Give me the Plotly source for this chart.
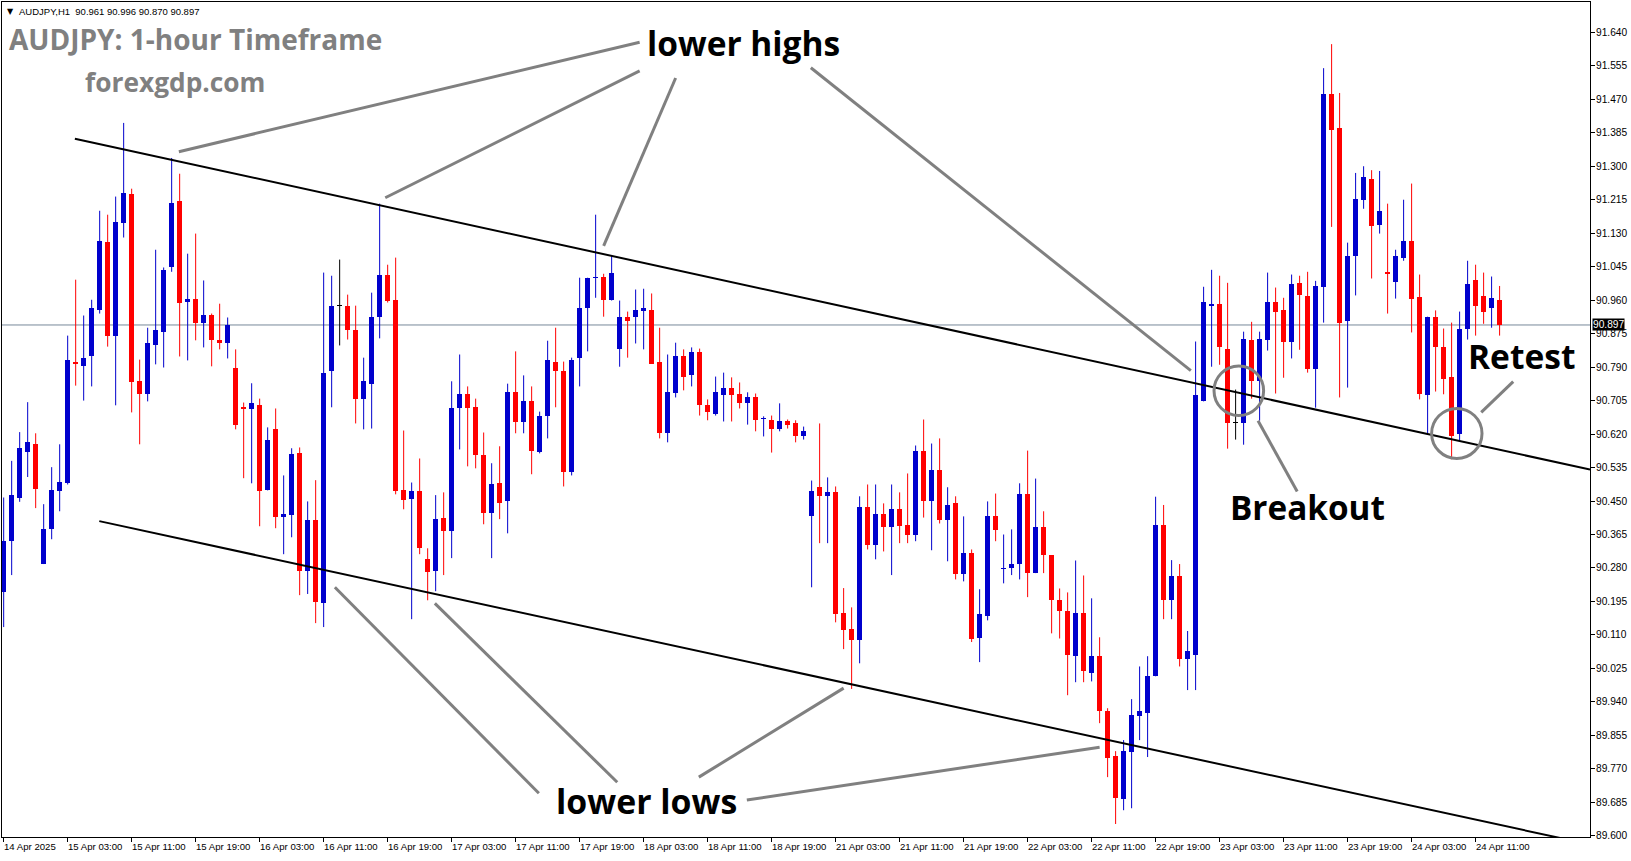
import plotly.graph_objects as go

# ---------------- data (AUDJPY H1, bar index 0 = 14 Apr 2025 19:00) ----------------
opens = [90.220, 90.349, 90.458, 90.574, 90.596, 90.290, 90.378, 90.475, 90.495, 90.804,
         90.792, 90.819, 90.936, 91.108, 90.870, 91.157, 91.230, 90.754, 90.721, 90.845,
         90.878, 91.045, 91.212, 90.956, 90.964, 90.901, 90.923, 90.860, 90.850, 90.787,
         90.690, 90.683, 90.693, 90.477, 90.632, 90.409, 90.414, 90.571, 90.272, 90.401,
         90.191, 90.779, 90.946, 90.944, 90.885, 90.710, 90.748, 90.916, 91.025, 90.961,
         90.477, 90.454, 90.475, 90.302, 90.272, 90.406, 90.373, 90.685, 90.721, 90.690,
         90.568, 90.419, 90.495, 90.449, 90.728, 90.650, 90.703, 90.574, 90.665, 90.802,
         90.781, 90.523, 90.814, 90.939, 91.016, 91.020, 90.961, 90.835, 90.918, 90.916,
         90.933, 90.936, 90.802, 90.622, 90.725, 90.819, 90.769, 90.829, 90.695, 90.670,
         90.718, 90.736, 90.723, 90.700, 90.715, 90.658, 90.657, 90.632, 90.652, 90.647,
         90.614, 90.411, 90.485, 90.464, 90.474, 90.165, 90.125, 90.097, 90.436, 90.338,
         90.416, 90.383, 90.431, 90.388, 90.365, 90.576, 90.449, 90.528, 90.403, 90.444,
         90.264, 90.317, 90.102, 90.158, 90.411, 90.278, 90.279, 90.289, 90.467, 90.267,
         90.383, 90.312, 90.200, 90.172, 90.056, 90.165, 90.013, 90.056, 89.916, 89.802,
         89.693, 89.812, 89.904, 89.911, 90.005, 90.388, 90.200, 90.260, 90.050, 90.060,
         90.705, 90.944, 90.951, 90.837, 90.649, 90.647, 90.860, 90.756, 90.860, 90.956,
         90.936, 90.855, 91.004, 90.971, 90.784, 90.994, 91.483, 91.397, 90.906, 91.073,
         91.215, 91.268, 91.152, 91.032, 91.007, 91.068, 91.111, 90.967, 90.718, 90.918,
         90.842, 90.764, 90.620, 90.888, 91.010, 90.970, 90.939, 90.961]
highs = [90.459, 90.552, 90.625, 90.701, 90.622, 90.442, 90.536, 90.594, 90.870, 91.012,
         90.921, 90.961, 91.187, 91.177, 91.223, 91.410, 91.243, 90.809, 90.890, 91.088,
         91.043, 91.321, 91.281, 91.078, 91.129, 91.010, 90.926, 90.951, 90.916, 90.835,
         90.700, 90.749, 90.710, 90.637, 90.685, 90.515, 90.584, 90.586, 90.449, 90.503,
         91.030, 91.022, 91.063, 90.974, 90.946, 90.814, 90.979, 91.205, 91.050, 91.068,
         90.629, 90.497, 90.558, 90.330, 90.465, 90.472, 90.754, 90.822, 90.741, 90.710,
         90.624, 90.546, 90.589, 90.748, 90.830, 90.769, 90.741, 90.677, 90.857, 90.890,
         90.804, 90.814, 91.017, 91.017, 91.177, 91.027, 91.073, 90.959, 90.931, 90.987,
         90.989, 90.977, 90.890, 90.822, 90.852, 90.835, 90.840, 90.837, 90.708, 90.766,
         90.776, 90.764, 90.751, 90.726, 90.723, 90.665, 90.667, 90.698, 90.657, 90.655,
         90.639, 90.502, 90.647, 90.510, 90.487, 90.229, 90.180, 90.462, 90.492, 90.492,
         90.444, 90.492, 90.472, 90.520, 90.591, 90.657, 90.596, 90.609, 90.485, 90.462,
         90.411, 90.327, 90.226, 90.449, 90.469, 90.365, 90.378, 90.495, 90.578, 90.507,
         90.424, 90.312, 90.228, 90.218, 90.299, 90.261, 90.203, 90.104, 89.924, 89.815,
         89.843, 89.947, 90.030, 90.056, 90.461, 90.440, 90.300, 90.290, 90.120, 90.855,
         90.994, 91.037, 91.022, 91.004, 90.733, 90.880, 90.905, 90.880, 91.030, 90.992,
         90.966, 91.025, 91.022, 91.032, 91.009, 91.549, 91.610, 91.486, 91.106, 91.283,
         91.300, 91.290, 91.288, 91.205, 91.088, 91.215, 91.256, 91.025, 90.918, 90.934,
         90.888, 90.903, 90.931, 91.060, 91.050, 91.030, 91.020, 90.996]
lows = [90.130, 90.262, 90.448, 90.511, 90.432, 90.290, 90.353, 90.424, 90.492, 90.743,
        90.705, 90.741, 90.926, 90.842, 90.693, 91.119, 90.675, 90.594, 90.703, 90.797,
        90.789, 91.032, 90.817, 90.807, 90.858, 90.840, 90.792, 90.835, 90.812, 90.632,
        90.508, 90.495, 90.386, 90.477, 90.381, 90.315, 90.358, 90.211, 90.214, 90.140,
        90.130, 90.688, 90.845, 90.860, 90.647, 90.632, 90.634, 90.863, 90.954, 90.467,
        90.429, 90.150, 90.315, 90.198, 90.221, 90.262, 90.305, 90.581, 90.538, 90.533,
        90.391, 90.305, 90.404, 90.368, 90.622, 90.622, 90.518, 90.571, 90.609, 90.688,
        90.487, 90.515, 90.741, 90.830, 90.966, 90.918, 90.959, 90.791, 90.814, 90.850,
        90.835, 90.799, 90.609, 90.599, 90.713, 90.731, 90.741, 90.667, 90.655, 90.667,
        90.652, 90.652, 90.685, 90.644, 90.627, 90.614, 90.573, 90.627, 90.634, 90.599,
        90.606, 90.231, 90.343, 90.343, 90.142, 90.074, 89.973, 90.038, 90.327, 90.302,
        90.322, 90.262, 90.343, 90.343, 90.348, 90.408, 90.325, 90.393, 90.297, 90.251,
        90.246, 90.092, 90.041, 90.147, 90.348, 90.241, 90.262, 90.251, 90.206, 90.267,
        90.267, 90.114, 90.101, 89.957, 89.990, 89.990, 89.992, 89.886, 89.749, 89.630,
        89.665, 89.670, 89.843, 89.800, 90.005, 90.150, 90.150, 90.030, 89.970, 89.970,
        90.703, 90.791, 90.796, 90.583, 90.606, 90.593, 90.710, 90.654, 90.832, 90.723,
        90.763, 90.812, 90.834, 90.776, 90.687, 90.903, 91.146, 90.713, 90.738, 90.972,
        91.192, 91.015, 91.129, 90.926, 90.964, 91.060, 90.878, 90.708, 90.619, 90.728,
        90.721, 90.556, 90.600, 90.860, 90.870, 90.900, 90.890, 90.870]
closes = [90.349, 90.465, 90.584, 90.599, 90.481, 90.378, 90.477, 90.498, 90.809, 90.799,
          90.814, 90.939, 91.111, 90.868, 91.159, 91.233, 90.751, 90.721, 90.850, 90.883,
          91.037, 91.207, 90.954, 90.964, 90.903, 90.923, 90.860, 90.850, 90.896, 90.642,
          90.683, 90.698, 90.475, 90.604, 90.409, 90.416, 90.569, 90.272, 90.401, 90.193,
          90.776, 90.946, 90.946, 90.883, 90.710, 90.756, 90.918, 91.025, 90.959, 90.475,
          90.452, 90.475, 90.330, 90.269, 90.404, 90.373, 90.685, 90.721, 90.685, 90.568,
          90.419, 90.492, 90.444, 90.726, 90.650, 90.705, 90.576, 90.667, 90.807, 90.781,
          90.523, 90.807, 90.941, 91.017, 91.018, 90.961, 91.030, 90.918, 90.908, 90.936,
          90.941, 90.799, 90.622, 90.728, 90.819, 90.764, 90.829, 90.693, 90.675, 90.728,
          90.738, 90.720, 90.700, 90.713, 90.657, 90.660, 90.632, 90.652, 90.644, 90.614,
          90.629, 90.475, 90.464, 90.474, 90.163, 90.122, 90.097, 90.436, 90.338, 90.416,
          90.383, 90.431, 90.386, 90.365, 90.576, 90.449, 90.530, 90.403, 90.441, 90.264,
          90.317, 90.099, 90.163, 90.411, 90.376, 90.280, 90.289, 90.467, 90.267, 90.383,
          90.312, 90.198, 90.172, 90.058, 90.165, 90.018, 90.056, 89.916, 89.797, 89.696,
          89.815, 89.906, 89.916, 90.007, 90.388, 90.200, 90.260, 90.050, 90.070, 90.718,
          90.956, 90.951, 90.842, 90.649, 90.649, 90.862, 90.756, 90.862, 90.956, 90.931,
          90.855, 91.002, 90.974, 90.784, 90.997, 91.483, 91.392, 90.903, 91.073, 91.218,
          91.273, 91.149, 91.187, 91.027, 91.073, 91.111, 90.964, 90.721, 90.918, 90.840,
          90.761, 90.614, 90.888, 91.000, 90.944, 90.930, 90.965, 90.897]

tick_bars = list(range(0, 185, 8))
tick_labels = ["14 Apr 2025", "15 Apr 03:00", "15 Apr 11:00", "15 Apr 19:00", "16 Apr 03:00",
               "16 Apr 11:00", "16 Apr 19:00", "17 Apr 03:00", "17 Apr 11:00", "17 Apr 19:00",
               "18 Apr 03:00", "18 Apr 11:00", "18 Apr 19:00", "21 Apr 03:00", "21 Apr 11:00",
               "21 Apr 19:00", "22 Apr 03:00", "22 Apr 11:00", "22 Apr 19:00", "23 Apr 03:00",
               "23 Apr 11:00", "23 Apr 19:00", "24 Apr 03:00", "24 Apr 11:00"]
price_ticks = [round(89.600 + 0.085 * i, 3) for i in range(25)]
last_price = 90.897

# ---------------- build figure ----------------
BLUE = "#0000CD"
RED = "#FF0000"
BLACK = "#000000"
GRAY = "#808080"
AXFONT = "Liberation Sans"
n = len(opens)
xs = list(range(n))


def col(o, c):
    if c > o:
        return BLUE
    if c < o:
        return RED
    return BLACK


colors = [col(o, c) for o, c in zip(opens, closes)]

fig = go.Figure()

# wicks
for colr in (BLUE, RED, BLACK):
    wx, wy = [], []
    for i in range(n):
        if colors[i] == colr:
            wx += [xs[i], xs[i], None]
            wy += [lows[i], highs[i], None]
    fig.add_trace(go.Scatter(x=wx, y=wy, mode="lines", line=dict(color=colr, width=1),
                             hoverinfo="skip", showlegend=False))

# bodies
base = [min(o, c) for o, c in zip(opens, closes)]
height = [max(abs(c - o), 0.0026) for o, c in zip(opens, closes)]
fig.add_trace(go.Bar(x=xs, y=height, base=base, width=0.62,
                     marker=dict(color=colors, line=dict(width=0)),
                     showlegend=False, hoverinfo="skip"))

shapes = []
# current price line
shapes.append(dict(type="line", xref="paper", x0=0, x1=1, yref="y", y0=last_price, y1=last_price,
                   line=dict(color="#778899", width=1), layer="below"))
# channel lines
shapes.append(dict(type="line", xref="x", yref="y", x0=8.9, y0=91.370, x1=198.3, y1=90.530,
                   line=dict(color="black", width=2)))
shapes.append(dict(type="line", xref="x", yref="y", x0=11.95, y0=90.399, x1=198.3, y1=89.578,
                   line=dict(color="black", width=2)))
# pointer lines
pointers = [
    (79.5, 91.615, 21.9, 91.337),
    (79.5, 91.542, 47.7, 91.220),
    (84.0, 91.524, 75.0, 91.098),
    (100.9, 91.550, 148.4, 90.781),
    (66.9, 89.708, 41.4, 90.231),
    (76.7, 89.736, 53.9, 90.190),
    (86.9, 89.749, 105.0, 89.975),
    (92.9, 89.691, 137.0, 89.825),
    (161.7, 90.474, 156.8, 90.654),
    (188.7, 90.753, 184.7, 90.675),
]
for x0, y0, x1, y1 in pointers:
    shapes.append(dict(type="line", xref="x", yref="y", x0=x0, y0=y0, x1=x1, y1=y1,
                       line=dict(color=GRAY, width=3)))
# circles
shapes.append(dict(type="circle", xref="x", yref="y", x0=151.3, x1=157.5, y0=90.667, y1=90.793,
                   line=dict(color=GRAY, width=3)))
shapes.append(dict(type="circle", xref="x", yref="y", x0=178.5, x1=184.8, y0=90.558, y1=90.685,
                   line=dict(color=GRAY, width=3)))

annotations = []


def txt(x, y, s, size, color):
    annotations.append(dict(x=x, y=y, xref="x", yref="y", text="<b>%s</b>" % s,
                            showarrow=False, xanchor="left", yanchor="middle", borderpad=0,
                            font=dict(family="Open Sans", size=size, color=color)))


txt(0.5, 91.622, "AUDJPY: 1-hour Timeframe", 28, GRAY)
txt(10.1, 91.514, "forexgdp.com", 26.3, GRAY)
txt(80.3, 91.612, "lower highs", 33.5, BLACK)
txt(68.9, 89.688, "lower lows", 33.8, BLACK)
txt(153.2, 90.436, "Breakout", 33.3, BLACK)
txt(182.9, 90.819, "Retest", 33.5, BLACK)

# header line
annotations.append(dict(x=0.25, y=91.692, xref="x", yref="y", text="▼", showarrow=False,
                        xanchor="left", yanchor="middle", borderpad=0,
                        font=dict(family="DejaVu Sans", size=8, color="black")))
annotations.append(dict(x=1.8, y=91.692, xref="x", yref="y",
                        text="AUDJPY,H1\u00a0\u00a090.961 90.996 90.870 90.897", showarrow=False,
                        xanchor="left", yanchor="middle", borderpad=0,
                        font=dict(family=AXFONT, size=9.5, color="black")))

# time axis labels (left-aligned at their tick, MT4 style)
for k, lab in zip(tick_bars, tick_labels):
    annotations.append(dict(x=k, y=0, xref="x", yref="paper", text=lab, showarrow=False,
                            xanchor="left", yanchor="top", xshift=-1, yshift=-3, borderpad=0,
                            font=dict(family=AXFONT, size=9.6, color="black")))
# price axis labels
for v in price_ticks:
    annotations.append(dict(x=1, y=v, xref="paper", yref="y", text="%.3f" % v, showarrow=False,
                            xanchor="left", yanchor="middle", xshift=5, borderpad=0,
                            font=dict(family=AXFONT, size=10.2, color="black")))
# current price tag
annotations.append(dict(x=1.0, y=last_price, xref="paper", yref="y", text="90.897", showarrow=False,
                        xanchor="left", yanchor="middle", xshift=2, bgcolor="black", borderpad=0,
                        font=dict(family=AXFONT, size=10.2, color="white")))

fig.update_layout(
    width=1631, height=861,
    margin=dict(l=2, r=41, t=2, b=24, autoexpand=False),
    paper_bgcolor="white", plot_bgcolor="white",
    barmode="overlay", bargap=0,
    shapes=shapes, annotations=annotations,
    showlegend=False,
    xaxis=dict(range=[-0.21, 198.3], showgrid=False, zeroline=False, showline=True, mirror=True,
               linecolor="black", linewidth=1, ticks="outside", ticklen=4, tickcolor="black",
               tickvals=tick_bars, showticklabels=False, automargin=False, fixedrange=True),
    yaxis=dict(range=[89.597, 91.717], side="right", showgrid=False, zeroline=False, showline=True,
               mirror=True, linecolor="black", linewidth=1, ticks="outside", ticklen=4,
               tickcolor="black", tickvals=price_ticks, showticklabels=False, automargin=False,
               fixedrange=True),
)

fig.write_html("out.html", config={"displayModeBar": False, "staticPlot": True},
               post_script="document.body.style.margin='0';document.body.style.padding='0';"
                           "document.body.style.overflow='hidden';")
